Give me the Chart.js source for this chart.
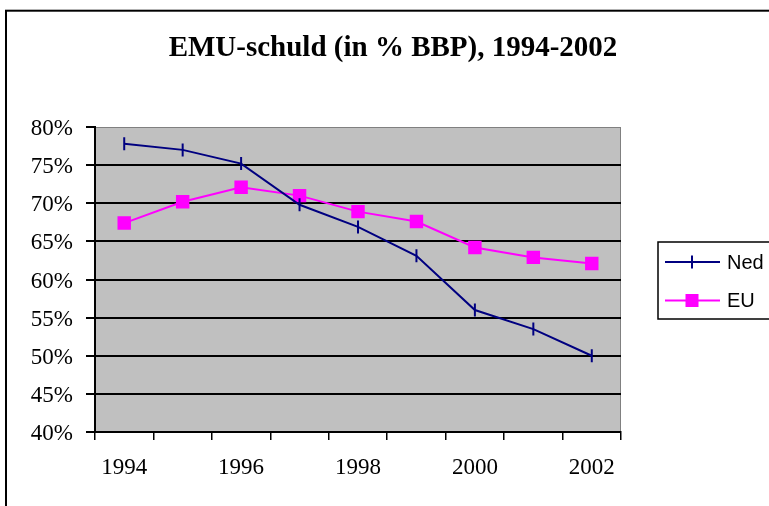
<!DOCTYPE html>
<html>
<head>
<meta charset="utf-8">
<script src="https://cdn.jsdelivr.net/npm/chart.js@4/dist/chart.umd.min.js"></script>
<style>
  html, body { margin: 0; padding: 0; background: #ffffff; }
  #wrap { width: 769px; height: 506px; }
</style>
</head>
<body>
<div id="wrap"><canvas id="c" width="769" height="506"></canvas></div>
<script>
const titleText = "EMU-schuld (in % BBP), 1994-2002";
const years = ["1994", "1995", "1996", "1997", "1998", "1999", "2000", "2001", "2002"];
const nedValues = [77.8, 77.0, 75.2, 69.8, 66.9, 63.1, 56.0, 53.5, 50.0];
const euValues = [67.4, 70.2, 72.1, 71.0, 68.9, 67.6, 64.2, 62.9, 62.1];
const seriesNames = ["Ned", "EU"];
const yMin = 40, yMax = 80, yStep = 5;

const plotBg = {
  id: "plotBg",
  beforeDraw(chart) {
    const a = chart.chartArea, ctx = chart.ctx;
    ctx.save();
    ctx.fillStyle = "#ffffff";
    ctx.fillRect(0, 0, chart.width, chart.height);
    ctx.fillStyle = "#C0C0C0";
    ctx.fillRect(a.left, a.top, a.right - a.left, a.bottom - a.top);
    ctx.strokeStyle = "#808080";
    ctx.lineWidth = 1;
    ctx.strokeRect(a.left, a.top + 0.5, a.right - a.left - 0.5, a.bottom - a.top);
    ctx.restore();
  }
};

const frameTitleLegend = {
  id: "frameTitleLegend",
  afterDraw(chart) {
    const ctx = chart.ctx;
    ctx.save();
    // outer frame
    ctx.strokeStyle = "#000";
    ctx.lineWidth = 2;
    ctx.strokeRect(6, 10.7, 900, 700);
    // title
    ctx.fillStyle = "#000";
    ctx.font = "bold 29px 'Liberation Serif', 'Times New Roman', serif";
    ctx.textAlign = "center";
    ctx.textBaseline = "middle";
    ctx.fillText(titleText, 393, 49);
    // legend box
    ctx.lineWidth = 1.5;
    ctx.strokeRect(658, 242, 200, 77);
    chart.data.datasets.forEach((ds, i) => {
      const y = 262 + i * 38.5;
      ctx.strokeStyle = ds.borderColor;
      ctx.lineWidth = 2;
      ctx.beginPath();
      ctx.moveTo(665, y);
      ctx.lineTo(720, y);
      ctx.stroke();
      const mx = 692;
      if (ds.pointStyle === "rect") {
        ctx.fillStyle = ds.backgroundColor;
        ctx.fillRect(mx - 6.5, y - 6.5, 13, 13);
      } else {
        ctx.beginPath();
        ctx.moveTo(mx, y - 6.5);
        ctx.lineTo(mx, y + 6.5);
        ctx.stroke();
      }
      ctx.fillStyle = "#000";
      ctx.font = "20px 'Liberation Sans', Arial, sans-serif";
      ctx.textBaseline = "middle";
      ctx.textAlign = "left";
      ctx.fillText(ds.label, 727, y + 1);
    });
    ctx.restore();
  }
};

new Chart(document.getElementById("c"), {
  type: "line",
  data: {
    labels: years,
    datasets: [
      {
        label: seriesNames[0],
        data: nedValues,
        borderColor: "#000080",
        backgroundColor: "#000080",
        borderWidth: 2,
        pointStyle: "line",
        rotation: 90,
        pointRadius: 6.5,
        pointBorderWidth: 2,
        pointBorderColor: "#000080",
        tension: 0
      },
      {
        label: seriesNames[1],
        data: euValues,
        borderColor: "#FF00FF",
        backgroundColor: "#FF00FF",
        borderWidth: 2,
        pointStyle: "rect",
        pointRadius: 9.5,
        pointBorderWidth: 0,
        pointBackgroundColor: "#FF00FF",
        tension: 0
      }
    ]
  },
  options: {
    responsive: false,
    animation: false,
    devicePixelRatio: 1,
    layout: { padding: { left: 0, right: 148, top: 127, bottom: 0 } },
    plugins: {
      legend: { display: false },
      tooltip: { enabled: false },
      title: { display: false }
    },
    scales: {
      x: {
        type: "category",
        offset: true,
        afterFit(scale) { scale.height = 74; },
        grid: {
          display: true,
          drawOnChartArea: false,
          drawTicks: true,
          offset: true,
          tickLength: 8,
          color: "#000",
          lineWidth: 1.5
        },
        border: { color: "#000", width: 2 },
        ticks: {
          autoSkip: false,
          maxRotation: 0,
          minRotation: 0,
          padding: 14,
          color: "#000",
          font: { family: "'Liberation Serif', 'Times New Roman', serif", size: 23 },
          callback(v, i) { return i % 2 === 0 ? years[i] : ""; }
        }
      },
      y: {
        min: yMin,
        max: yMax,
        afterFit(scale) { scale.width = 95; },
        grid: {
          color(ctx) { return ctx.tick && ctx.tick.value === yMax ? "rgba(0,0,0,0)" : "#000"; },
          lineWidth: 2,
          tickColor: "#000",
          tickLength: 9,
          drawTicks: true
        },
        border: { color: "#000", width: 2 },
        ticks: {
          stepSize: yStep,
          padding: 13,
          labelOffset: 2,
          color: "#000",
          font: { family: "'Liberation Serif', 'Times New Roman', serif", size: 23 },
          callback(v) { return v + "%"; }
        }
      }
    }
  },
  plugins: [plotBg, frameTitleLegend]
});
</script>
</body>
</html>
